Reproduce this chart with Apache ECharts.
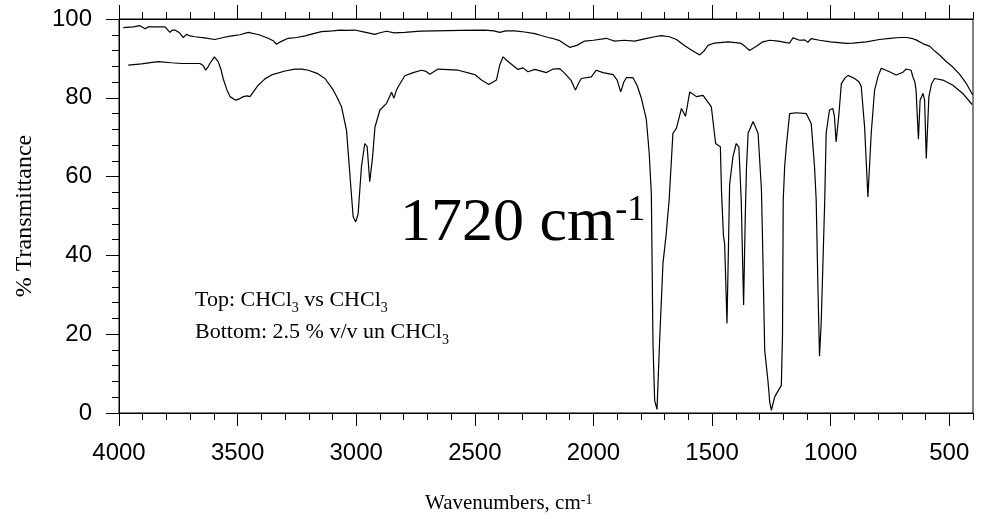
<!DOCTYPE html>
<html>
<head>
<meta charset="utf-8">
<title>IR spectrum</title>
<script src="https://cdn.jsdelivr.net/npm/echarts@6.0.0/dist/echarts.min.js"></script>
<style>
    html, body { margin: 0; padding: 0; background: #fff; }
    #div_echarts { width: 981px; height: 519px; }
</style>
</head>
<body>
<div id="div_echarts"></div>
<script>
// wavenumber ticks (cm-1) and transmittance ticks
var majorTicks = [4000, 3500, 3000, 2500, 2000, 1500, 1000, 500];
var yTicks = [0, 20, 40, 60, 80, 100];

// top trace: CHCl3 vs CHCl3, [wavenumber, %T]
var topTrace = [
    [3982, 97.8], [3940, 98.0], [3912, 98.3], [3890, 97.5], [3876, 98.0], [3806, 98.0],
    [3785, 96.6], [3775, 97.2], [3764, 97.2], [3745, 96.5], [3729, 95.3], [3715, 96.1],
    [3700, 95.7], [3680, 95.5], [3640, 95.2], [3596, 94.8], [3560, 95.3], [3525, 95.7],
    [3490, 96.0], [3455, 96.6], [3410, 96.0], [3371, 95.1], [3350, 94.5], [3336, 93.6],
    [3320, 94.2], [3287, 95.1], [3250, 95.3], [3216, 95.7], [3180, 96.3], [3146, 96.8],
    [3100, 97.0], [3069, 97.2], [3040, 97.1], [3006, 97.2], [2960, 96.6], [2921, 96.1],
    [2900, 96.5], [2872, 96.9], [2840, 96.5], [2795, 96.6], [2730, 96.9], [2669, 97.0],
    [2560, 97.1], [2458, 97.2], [2420, 97.0], [2395, 96.6], [2370, 97.0], [2332, 97.0],
    [2290, 96.7], [2247, 96.3], [2220, 95.8], [2191, 95.3], [2168, 95.0], [2142, 94.5],
    [2120, 93.6], [2100, 92.8], [2093, 92.8], [2070, 93.3], [2037, 94.4], [2000, 94.6],
    [1945, 95.1], [1931, 94.8], [1910, 94.4], [1870, 94.6], [1826, 94.4], [1780, 95.0],
    [1742, 95.5], [1714, 95.8], [1680, 95.5], [1650, 94.8], [1615, 93.2], [1594, 92.4],
    [1570, 91.5], [1552, 90.9], [1535, 91.8], [1517, 93.3], [1490, 93.9], [1433, 94.2],
    [1400, 94.0], [1377, 93.8], [1360, 93.0], [1342, 92.0], [1334, 92.1], [1310, 93.2],
    [1286, 94.2], [1257, 94.6], [1220, 94.4], [1187, 94.0], [1173, 93.9], [1159, 95.2],
    [1131, 94.6], [1110, 94.7], [1096, 94.1], [1082, 95.0], [1047, 94.6], [1000, 94.2],
    [934, 93.8], [907, 93.9], [850, 94.2], [794, 94.8], [750, 95.1], [710, 95.3],
    [680, 95.3], [654, 95.0], [640, 94.7], [610, 93.7], [583, 93.1], [569, 92.3],
    [540, 90.8], [513, 89.2], [485, 87.8], [457, 86.0], [430, 83.8], [401, 80.7]
];

// bottom trace: 2.5 % v/v in CHCl3, [wavenumber, %T]
var bottomTrace = [
    [3961, 88.3], [3905, 88.6], [3860, 89.0], [3834, 89.2], [3780, 88.9], [3736, 88.7],
    [3659, 88.7], [3645, 88.2], [3635, 87.0], [3625, 87.8], [3617, 88.7], [3598, 90.4],
    [3582, 89.2], [3570, 87.2], [3561, 84.9], [3545, 82.0], [3532, 80.3], [3508, 79.4],
    [3490, 79.8], [3476, 80.3], [3460, 80.5], [3448, 80.3], [3430, 81.8], [3413, 83.2],
    [3385, 84.8], [3357, 85.8], [3300, 86.8], [3259, 87.3], [3230, 87.3], [3202, 87.0],
    [3165, 86.2], [3132, 84.9], [3097, 82.0], [3080, 80.0], [3062, 77.7], [3041, 71.8],
    [3027, 60.8], [3013, 49.8], [3002, 48.5], [2992, 50.5], [2978, 62.5], [2964, 68.4],
    [2954, 67.6], [2943, 58.7], [2931, 65.0], [2921, 72.6], [2900, 76.9], [2872, 78.6],
    [2851, 81.4], [2841, 79.9], [2830, 82.0], [2823, 82.8], [2795, 85.6], [2760, 86.4],
    [2725, 87.0], [2705, 86.7], [2690, 86.0], [2655, 87.3], [2570, 87.0], [2500, 85.9],
    [2472, 84.5], [2441, 83.4], [2409, 84.5], [2395, 88.3], [2381, 90.4], [2360, 89.2],
    [2318, 87.2], [2297, 87.6], [2276, 86.6], [2247, 87.2], [2198, 86.4], [2170, 87.3],
    [2142, 87.4], [2121, 86.2], [2095, 84.5], [2076, 82.0], [2060, 84.0], [2051, 84.9],
    [2009, 85.3], [1988, 87.0], [1960, 86.4], [1917, 85.9], [1900, 84.5], [1885, 81.5],
    [1872, 84.0], [1861, 85.1], [1833, 85.1], [1815, 83.0], [1798, 79.9], [1777, 74.5],
    [1765, 66.0], [1756, 55.7], [1749, 17.6], [1742, 3.2], [1732, 0.9], [1721, 18.4],
    [1707, 37.9], [1693, 45.6], [1686, 50.6], [1681, 54.0], [1665, 71.0], [1650, 72.3],
    [1629, 77.3], [1612, 75.3], [1594, 81.5], [1566, 80.3], [1538, 80.6], [1503, 77.7],
    [1485, 68.4], [1465, 67.6], [1460, 56.0], [1452, 45.0], [1447, 43.0], [1437, 22.7],
    [1430, 45.0], [1426, 58.0], [1412, 65.0], [1398, 68.4], [1387, 67.5], [1377, 54.0],
    [1367, 27.4], [1360, 50.0], [1355, 62.0], [1348, 71.0], [1327, 74.0], [1306, 71.0],
    [1292, 56.9], [1288, 46.4], [1278, 15.9], [1264, 7.9], [1257, 2.8], [1250, 0.7],
    [1236, 4.1], [1208, 7.0], [1203, 20.0], [1200, 54.0], [1194, 62.5], [1187, 67.6],
    [1173, 76.0], [1145, 76.2], [1103, 76.0], [1082, 73.5], [1068, 62.5], [1061, 54.0],
    [1054, 32.9], [1047, 14.4], [1040, 22.7], [1033, 37.1], [1025, 54.0], [1019, 71.0],
    [1005, 76.9], [991, 77.3], [984, 75.2], [977, 68.8], [965, 76.0], [955, 83.6],
    [940, 85.0], [927, 85.7], [899, 84.9], [880, 84.0], [871, 82.8], [857, 72.6],
    [843, 54.8], [829, 71.0], [815, 81.9], [800, 85.5], [787, 87.5], [752, 86.6],
    [724, 85.8], [717, 85.5], [695, 86.5], [682, 87.3], [661, 87.0], [654, 85.4],
    [645, 84.0], [640, 81.9], [630, 69.5], [623, 79.4], [611, 81.1], [604, 79.4],
    [597, 64.6], [586, 80.3], [575, 83.5], [562, 84.9], [527, 84.5], [485, 83.2],
    [443, 81.1], [404, 78.3]
];

var serif = "'Liberation Serif', 'Times New Roman', serif";
var sans = "'Liberation Sans', Arial, sans-serif";

var gridBox = { left: 119, right: 8, top: 19, bottom: 106 };

var xBase = function (gridIndex, position) {
    return {
        type: 'value',
        gridIndex: gridIndex,
        position: position,
        min: 400,
        max: 4000,
        inverse: true,
        axisLine: { show: gridIndex === 0, onZero: false, lineStyle: { color: '#000', width: 1 } },
        splitLine: { show: false },
        axisLabel: { show: false }
    };
};

var initEcharts = function () {
    var myChart = echarts.init(document.getElementById('div_echarts'));

    var xBottom = xBase(0, 'bottom');
    xBottom.axisTick = { show: true, inside: false, length: 13, customValues: majorTicks, lineStyle: { color: '#000' } };
    xBottom.axisLabel = {
        show: true, customValues: majorTicks, margin: 28,
        color: '#000', fontFamily: sans, fontSize: 24,
        formatter: function (v) { return String(v); }
    };

    var xTop = xBase(0, 'top');
    xTop.axisTick = { show: true, inside: false, length: 14, customValues: majorTicks, lineStyle: { color: '#000' } };

    var xBottomMinor = xBase(1, 'bottom');
    xBottomMinor.interval = 100;
    xBottomMinor.axisTick = { show: true, inside: false, length: 7, lineStyle: { color: '#000' } };

    var xTopMinor = xBase(1, 'top');
    xTopMinor.interval = 100;
    xTopMinor.axisTick = { show: true, inside: false, length: 7, lineStyle: { color: '#000' } };

    var option = {
        backgroundColor: '#fff',
        animation: false,
        grid: [
            Object.assign({ show: true, borderColor: '#000', borderWidth: 1, containLabel: false, outerBoundsMode: 'none' }, gridBox),
            Object.assign({ show: false, containLabel: false, outerBoundsMode: 'none' }, gridBox)
        ],
        xAxis: [xBottom, xTop, xBottomMinor, xTopMinor],
        yAxis: [
            {
                type: 'value',
                gridIndex: 0,
                min: yTicks[0],
                max: yTicks[yTicks.length - 1],
                interval: 20,
                name: '% Transmittance',
                nameLocation: 'middle',
                nameGap: 82,
                nameTextStyle: { color: '#000', fontFamily: serif, fontSize: 24 },
                axisLine: { show: true, lineStyle: { color: '#000', width: 1 } },
                axisTick: { show: true, inside: false, length: 13, lineStyle: { color: '#000' } },
                minorTick: { show: true, splitNumber: 5, length: 7, lineStyle: { color: '#000' } },
                axisLabel: { color: '#000', fontFamily: sans, fontSize: 24, margin: 27 },
                splitLine: { show: false },
                minorSplitLine: { show: false }
            },
            {
                type: 'value',
                gridIndex: 1,
                min: 0,
                max: 100,
                show: false
            }
        ],
        graphic: [
            {
                type: 'text',
                x: 400,
                y: 224,
                style: {
                    text: '{a|1720 cm}{s|-1}',
                    textAlign: 'left', align: 'left',
                    textVerticalAlign: 'middle', verticalAlign: 'middle',
                    fill: '#000',
                    rich: {
                        a: { fontFamily: serif, fontSize: 62, lineHeight: 62, verticalAlign: 'top', fill: '#000' },
                        s: { fontFamily: serif, fontSize: 36, lineHeight: 38, verticalAlign: 'top', fill: '#000' }
                    }
                }
            },
            {
                type: 'text',
                x: 195,
                y: 302,
                style: {
                    text: '{a|Top: CHCl}{b|3}{a| vs CHCl}{b|3}',
                    textAlign: 'left', align: 'left',
                    textVerticalAlign: 'middle', verticalAlign: 'middle',
                    fill: '#000',
                    rich: {
                        a: { fontFamily: serif, fontSize: 22, lineHeight: 26, verticalAlign: 'top', fill: '#000' },
                        b: { fontFamily: serif, fontSize: 14, lineHeight: 10, verticalAlign: 'bottom', fill: '#000' }
                    }
                }
            },
            {
                type: 'text',
                x: 195,
                y: 334,
                style: {
                    text: '{a|Bottom: 2.5 % v/v un CHCl}{b|3}',
                    textAlign: 'left', align: 'left',
                    textVerticalAlign: 'middle', verticalAlign: 'middle',
                    fill: '#000',
                    rich: {
                        a: { fontFamily: serif, fontSize: 22, lineHeight: 26, verticalAlign: 'top', fill: '#000' },
                        b: { fontFamily: serif, fontSize: 14, lineHeight: 10, verticalAlign: 'bottom', fill: '#000' }
                    }
                }
            },
            {
                type: 'text',
                x: 425,
                y: 505,
                style: {
                    text: '{a|Wavenumbers, cm}{s|-1}',
                    textAlign: 'left', align: 'left',
                    textVerticalAlign: 'middle', verticalAlign: 'middle',
                    fill: '#000',
                    rich: {
                        a: { fontFamily: serif, fontSize: 21, lineHeight: 24, verticalAlign: 'top', fill: '#000' },
                        s: { fontFamily: serif, fontSize: 14, lineHeight: 14, verticalAlign: 'top', fill: '#000' }
                    }
                }
            }
        ],
        series: [
            {
                name: 'Top',
                type: 'line',
                xAxisIndex: 0,
                yAxisIndex: 0,
                data: topTrace,
                showSymbol: false,
                symbol: 'none',
                lineStyle: { color: '#000', width: 1.2 }
            },
            {
                name: 'Bottom',
                type: 'line',
                xAxisIndex: 0,
                yAxisIndex: 0,
                data: bottomTrace,
                showSymbol: false,
                symbol: 'none',
                lineStyle: { color: '#000', width: 1.2 }
            }
        ]
    };
    myChart.setOption(option);
};

window.onload = initEcharts;
</script>
</body>
</html>
